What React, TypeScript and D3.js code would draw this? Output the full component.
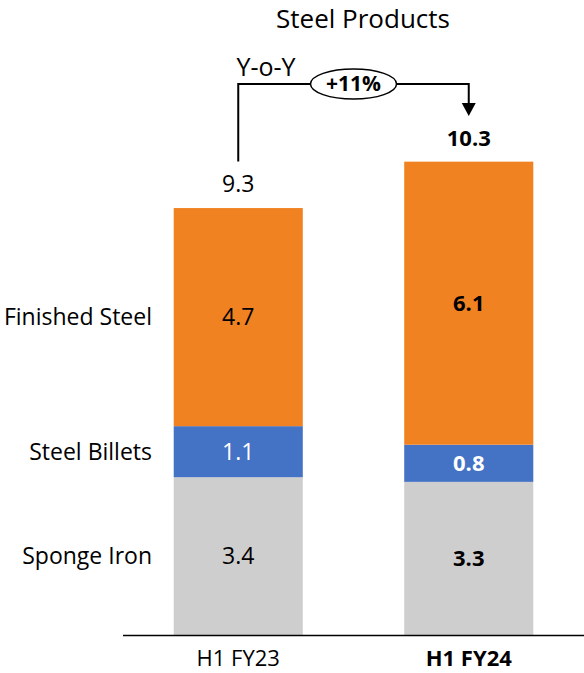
import React from "react";
import * as d3 from "d3";

const periods = ["H1 FY23", "H1 FY24"];
const seriesNames = ["Sponge Iron", "Steel Billets", "Finished Steel"];
const spongeIron = [3.4, 3.3];
const steelBillets = [1.1, 0.8];
const finishedSteel = [4.7, 6.1];
const totals = [9.3, 10.3];
const growthLabel = "+11%";
const boldPeriod = [false, true];

const colors = ["#CECECE", "#4472C4", "#F08222"];
const labelColors = ["#000000", "#FFFFFF", "#000000"];

const W = 584;
const H = 673;
const FONT = "'Open Sans', sans-serif";

export default function App() {
  const x = d3.scaleBand<string>().domain(periods).range([123, 584]).paddingInner(0.44).paddingOuter(0.22);
  const y = d3.scaleLinear().domain([0, 10.3]).range([635, 157]);

  const rows = periods.map((p, i) => ({
    period: p,
    "Sponge Iron": spongeIron[i],
    "Steel Billets": steelBillets[i],
    "Finished Steel": finishedSteel[i],
  }));
  const stacked = d3.stack<any>().keys(seriesNames)(rows);

  const cx = (p: string) => (x(p) as number) + x.bandwidth() / 2;
  const c0 = cx(periods[0]);
  const c1 = cx(periods[1]);
  const bracketY = 84;
  const arrowTip = 116;
  const ellipseX = 353.5;
  const fs = (bold: boolean) => (bold ? 22 : 23);

  return (
    <svg width={W} height={H} style={{ position: "absolute", left: 0, top: 0, background: "#fff" }} fontFamily={FONT}>
      <text x={363} y={28} textAnchor="middle" fontSize={26} fill="#000">Steel Products</text>

      {stacked.map((s, si) => (
        <g key={s.key}>
          {s.map((d, i) => (
            <g key={i}>
              <rect x={x(periods[i])} y={y(d[1])} width={x.bandwidth()} height={y(d[0]) - y(d[1])} fill={colors[si]} />
              <text
                x={cx(periods[i])}
                y={(y(d[0]) + y(d[1])) / 2}
                dy="0.35em"
                textAnchor="middle"
                fontSize={fs(boldPeriod[i])}
                fontWeight={boldPeriod[i] ? 700 : 400}
                fill={labelColors[si]}
              >
                {(d[1] - d[0]).toFixed(1)}
              </text>
            </g>
          ))}
          <text
            x={152}
            y={(y(s[0][0]) + y(s[0][1])) / 2}
            dy="0.35em"
            textAnchor="end"
            fontSize={23}
            fill="#000"
          >
            {s.key}
          </text>
        </g>
      ))}

      {totals.map((t, i) => (
        <text key={i} x={cx(periods[i])} y={y(t) - 11} textAnchor="middle" fontSize={fs(boldPeriod[i])} fontWeight={boldPeriod[i] ? 700 : 400} fill="#000">
          {t.toFixed(1)}
        </text>
      ))}

      <line x1={123} x2={584} y1={y(0) + 0.5} y2={y(0) + 0.5} stroke="#000" strokeWidth={1.5} />
      {periods.map((p, i) => (
        <text key={p} x={cx(p)} y={666} textAnchor="middle" fontSize={22} fontWeight={boldPeriod[i] ? 700 : 400} fill="#000">
          {p}
        </text>
      ))}

      {/* Year-over-year connector */}
      <path
        d={`M${c0},${y(totals[0]) - 42} V${bracketY} H${c1} V${arrowTip - 12}`}
        fill="none"
        stroke="#000"
        strokeWidth={2}
      />
      <path d={`M${c1 - 7},${arrowTip - 13} L${c1 + 7},${arrowTip - 13} L${c1},${arrowTip} Z`} fill="#000" />
      <ellipse cx={ellipseX} cy={bracketY} rx={43} ry={15} fill="#fff" stroke="#000" strokeWidth={1.5} />
      <text x={ellipseX} y={bracketY} dy="0.35em" textAnchor="middle" fontSize={21} fontWeight={700} fill="#000">{growthLabel}</text>
      <text x={266} y={76} textAnchor="middle" fontSize={25} fill="#000">Y-o-Y</text>
    </svg>
  );
}
